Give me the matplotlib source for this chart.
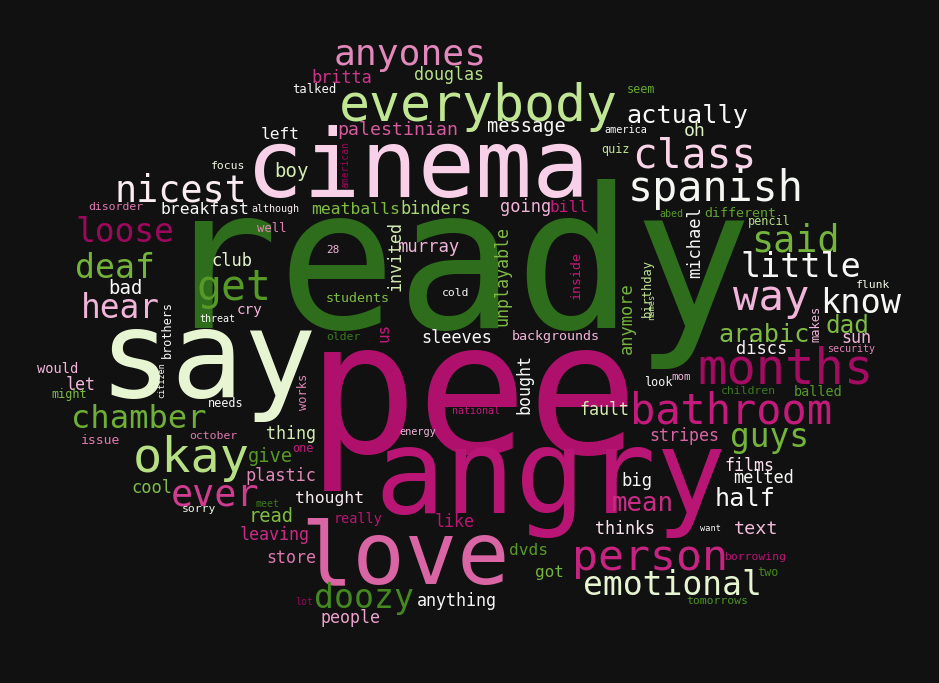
import matplotlib
matplotlib.use("Agg")
import matplotlib.pyplot as plt

# ---- data: words, their weights (rendered em size in px) and colour tone (PiYG position)
words = ["ready", "pee", "say", "cinema", "angry", "love", "everybody", "months",
         "okay", "person", "bathroom", "spanish", "class", "way", "get", "anyones",
         "nicest", "said", "ever", "little", "loose", "emotional", "know", "doozy",
         "deaf", "hear", "chamber", "guys", "actually", "arabic", "mean", "half",
         "dad", "text", "read", "palestinian", "message", "boy", "give", "bad",
         "oh", "murray", "britta", "douglas", "left", "breakfast", "meatballs",
         "binders", "going", "bill", "club", "sleeves", "fault", "discs", "stripes",
         "thing", "plastic", "cool", "thought", "leaving", "store", "like", "dvds",
         "got", "anything", "people", "thinks", "big", "melted", "films", "let",
         "sun", "cry", "would", "students", "backgrounds", "different", "balled",
         "issue", "really", "talked", "disorder", "focus", "well", "although",
         "seem", "america", "quiz", "abed", "pencil", "flunk", "security", "mom",
         "look", "children", "28", "cold", "older", "national", "energy", "threat",
         "needs", "might", "october", "one", "meet", "sorry", "lot", "tomorrows",
         "two", "borrowing", "want",
         # vertical words
         "american", "invited", "unplayable", "inside", "anymore", "birthday",
         "names", "michael", "makes", "us", "bought", "works", "citizen", "brothers"]

weights = [197, 184, 121, 95, 117, 87, 51.5, 48.7,
           48.5, 43.3, 42, 41.8, 41.2, 42.2, 41.5, 36.4,
           36.7, 36.7, 36.7, 33.5, 32.9, 33, 33.7, 33.2,
           33.2, 32.8, 32.2, 32.8, 25.3, 25.2, 25.8, 25.3,
           24.3, 18.4, 18.8, 18.3, 18.6, 19, 18.8, 19,
           18.1, 17.2, 16.9, 16.6, 16.2, 16.4, 16.4,
           16.9, 17, 16.2, 17, 16.9, 16.6, 17, 16.6,
           16.6, 16.9, 17, 16.4, 16.6, 16.6, 16.6, 16.2,
           16, 16.6, 16.6, 16.6, 17.2, 16.9, 16.6, 16.6,
           16.6, 14.2, 13.8, 13.4, 13.4, 13.4, 13.5,
           13.1, 13.5, 12.3, 11.5, 11.4, 12.2, 10,
           11.8, 10.3, 11.8, 10, 11.7, 11.4, 10, 10.7,
           11.8, 11.5, 11, 11.4, 11.4, 10, 10.3, 10,
           11.8, 11.8, 11.5, 11.9, 10, 11.4, 10, 11.5,
           11.9, 11.5, 8.7,
           9.8, 16.6, 16.6, 13.2, 17.1, 12.1,
           8.7, 17.1, 12.1, 16, 16.6, 12.1, 8.5, 11.7]

tones = [0.98, 0.06, 0.59, 0.36, 0.08, 0.18, 0.68, 0.04,
         0.70, 0.11, 0.10, 0.51, 0.37, 0.30, 0.88, 0.23,
         0.45, 0.82, 0.14, 0.50, 0.03, 0.60, 0.50, 0.92,
         0.82, 0.30, 0.83, 0.82, 0.50, 0.80, 0.12, 0.50,
         0.80, 0.32, 0.80, 0.17, 0.50, 0.64, 0.88, 0.50,
         0.62, 0.30, 0.13, 0.70, 0.50, 0.50, 0.80,
         0.72, 0.30, 0.10, 0.60, 0.50, 0.64, 0.46, 0.18,
         0.64, 0.23, 0.80, 0.45, 0.12, 0.20, 0.08, 0.88,
         0.82, 0.50, 0.27, 0.42, 0.50, 0.50, 0.40, 0.30,
         0.30, 0.30, 0.30, 0.80, 0.30, 0.86, 0.88,
         0.20, 0.08, 0.50, 0.20, 0.55, 0.22, 0.45,
         0.85, 0.50, 0.68, 0.88, 0.70, 0.55, 0.22, 0.30,
         0.50, 0.95, 0.30, 0.50, 0.95, 0.10, 0.30, 0.50,
         0.50, 0.80, 0.20, 0.10, 0.95, 0.55, 0.02, 0.90,
         0.92, 0.08, 0.50,
         0.02, 0.64, 0.80, 0.10, 0.82, 0.68,
         0.68, 0.50, 0.30, 0.10, 0.50, 0.22, 0.50, 0.50]

# ---- layout (pixel canvas): horizontal -> (centre x, baseline y); vertical -> (baseline x, centre y)
pos_x = [456, 473, 208, 418, 551, 405, 478, 785,
         191, 650, 731, 716, 694, 771, 234, 410,
         181, 795, 215, 801, 125, 672, 861, 364,
         115, 120, 139, 769, 687, 764, 643, 745,
         847, 756, 271, 398, 526, 292, 270, 126,
         695, 428, 342, 449, 280, 205, 356,
         436, 526, 569, 232, 457, 604, 762, 684,
         291, 281, 152, 330, 275, 291, 455, 529,
         549, 457, 351, 625, 637, 763, 749, 81,
         856, 250, 58, 358, 556, 740, 818,
         101, 358, 314, 116, 228, 272, 275,
         641, 626, 616, 671, 769, 873, 851, 681,
         658, 748, 333, 456, 343, 476, 418, 217,
         226, 69, 213, 303, 268, 199, 304, 717,
         768, 756, 710,
         348, 400, 507, 580, 632, 651, 654, 700, 819, 388, 529, 307, 164, 171]
pos_y = [328, 453, 397, 197, 513, 583, 121, 383,
         472, 570, 423, 201, 168, 310, 300, 65,
         201, 252, 506, 277, 242, 595, 313, 608,
         278, 318, 428, 447, 123, 342, 511, 506,
         333, 534, 522, 135, 132, 177, 462, 294,
         136, 252, 83, 80, 139, 214, 214,
         214, 212, 212, 266, 343, 415, 354, 441,
         439, 481, 493, 503, 540, 563, 527, 555,
         577, 606, 623, 534, 486, 483, 471, 390,
         343, 314, 373, 302, 340, 217, 396,
         444, 523, 93, 210, 169, 232, 212,
         93, 133, 153, 217, 225, 288, 352, 380,
         386, 394, 253, 296, 340, 414, 435, 322,
         407, 398, 439, 452, 507, 512, 605, 604,
         576, 560, 531,
         165, 256, 276, 275, 318, 288, 307, 242, 324, 332, 384, 392, 380, 329]
n_vertical = 14

W, H = 939, 683
fig = plt.figure(figsize=(W / 100, H / 100), dpi=100)
fig.patch.set_facecolor("#111111")
ax = fig.add_axes([0, 0, 1, 1])
ax.set_facecolor("#111111")
ax.set_xlim(0, W)
ax.set_ylim(H, 0)
ax.axis("off")

cmap = matplotlib.colormaps["PiYG"]
n = len(words)
for i, (w, s, t, x, y) in enumerate(zip(words, weights, tones, pos_x, pos_y)):
    vertical = i >= n - n_vertical
    ax.text(x, y, w, fontsize=s * 0.72, family="DejaVu Sans Mono",
            color=cmap(t), ha="center", va="baseline",
            rotation=90 if vertical else 0, rotation_mode="anchor")

fig.savefig("out.png", dpi=100, facecolor=fig.get_facecolor())
